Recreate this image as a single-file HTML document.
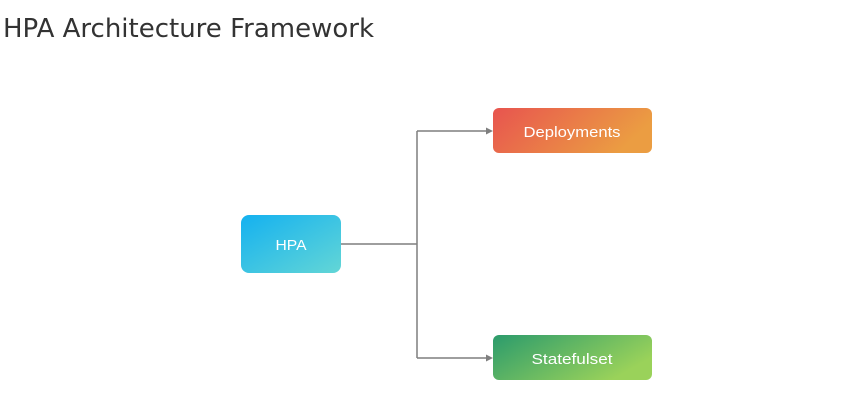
<!DOCTYPE html>
<html><head><meta charset="utf-8"><style>
html,body{margin:0;padding:0;background:#fff;width:844px;height:419px;overflow:hidden}
</style></head><body>
<svg width="844" height="419" viewBox="0 0 844 419" xmlns="http://www.w3.org/2000/svg">
<defs>
<linearGradient id="gb" x1="0" y1="0" x2="1" y2="1"><stop offset="0" stop-color="#14b1f0"/><stop offset="1" stop-color="#63d6d6"/></linearGradient>
<linearGradient id="go" x1="0" y1="0" x2="1" y2="0.3"><stop offset="0" stop-color="#e8544f"/><stop offset="1" stop-color="#eb9d42"/></linearGradient>
<linearGradient id="gg" x1="0" y1="0" x2="1" y2="0.5"><stop offset="0" stop-color="#2b9b6c"/><stop offset="1" stop-color="#9ad25a"/></linearGradient>
</defs>
<text x="3" y="37" font-family="DejaVu Sans, sans-serif" font-size="26" fill="#333" textLength="371" lengthAdjust="spacingAndGlyphs">HPA Architecture Framework</text>
<g stroke="#7f7f7f" stroke-width="1.5" fill="none">
<path d="M341 244 H417 M417 131 V358 M417 131 H488 M417 358 H488"/>
</g>
<path d="M493 131 l-7 -3.5 v7z M493 358 l-7 -3.5 v7z" fill="#7f7f7f"/>
<rect x="241" y="215" width="100" height="58" rx="8" fill="url(#gb)"/>
<rect x="493" y="108" width="159" height="45" rx="6" fill="url(#go)"/>
<rect x="493" y="335" width="159" height="45" rx="6" fill="url(#gg)"/>
<g font-family="Liberation Sans, sans-serif" font-size="15" fill="#fff" text-anchor="middle" lengthAdjust="spacingAndGlyphs">
<text x="291" y="250" textLength="31" lengthAdjust="spacingAndGlyphs">HPA</text>
<text x="572" y="137" textLength="97" lengthAdjust="spacingAndGlyphs">Deployments</text>
<text x="572" y="364" textLength="81" lengthAdjust="spacingAndGlyphs">Statefulset</text>
</g>
</svg>
</body></html>
